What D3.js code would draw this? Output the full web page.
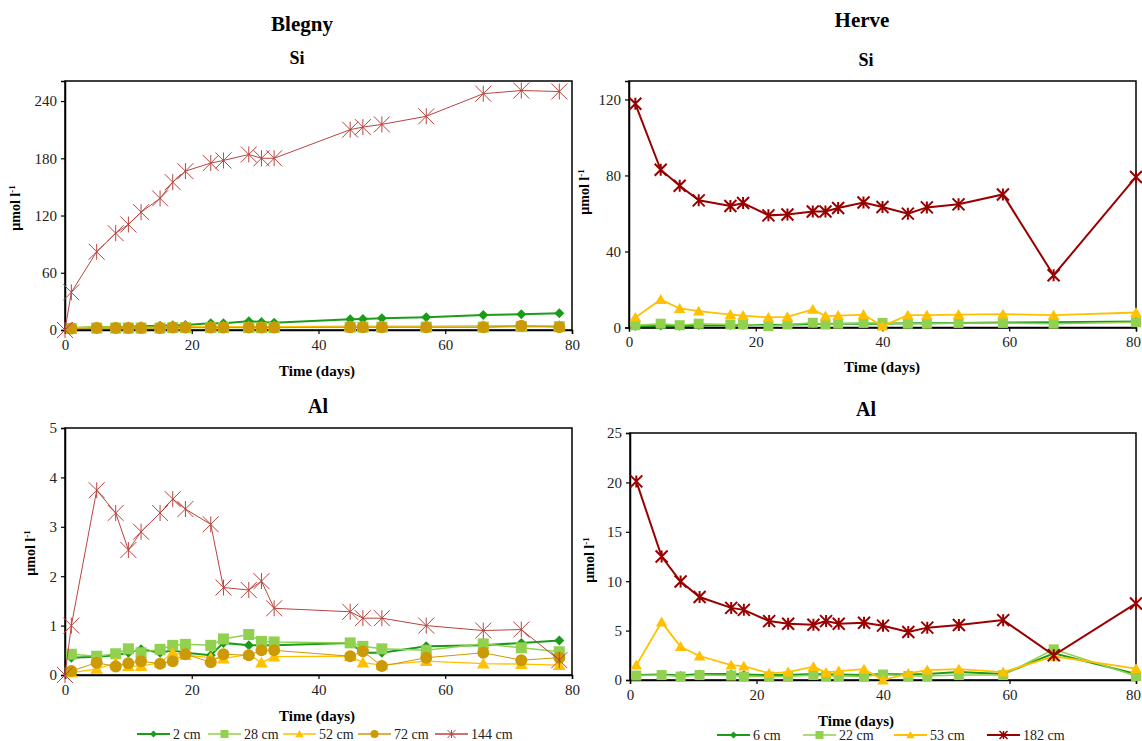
<!DOCTYPE html>
<html>
<head>
<meta charset="utf-8">
<script src="https://cdn.jsdelivr.net/npm/d3@7"></script>
<style>
  body { margin: 0; background: #fff; }
  svg { display: block; font-family: "Liberation Serif", "Times New Roman", serif; }
</style>
</head>
<body>
<svg width="1142" height="741"></svg>
<script>
// sampling days
const blegnyDays = [0, 1, 5, 8, 10, 12, 15, 17, 19, 23, 25, 29, 31, 33, 45, 47, 50, 57, 66, 72, 78];
const herveDays = [1, 5, 8, 11, 16, 18, 22, 25, 29, 31, 33, 37, 40, 44, 47, 52, 59, 67, 80];

// Blegny Si (null = no sample)
const blegnySi2   = [null, 2, 3, 3, 3.5, 4, 4.5, 5, 5.2, 7, 7, 9.1, 8.5, 7.7, 11.2, 11.5, 12.2, 13.3, 15.7, 16.5, 17.5];
const blegnySi28  = [null, 1.5, 2, 2, 2, 2, 2, 2.5, 2.5, 2.5, 2.5, 2.5, 2.5, 2.5, 3, 3, 3, 3, 3, 3.5, 3.5];
const blegnySi52  = [null, 2.5, 3, 3, 3, 3, 3, 3.5, 3.5, 3.5, 3.5, 3.5, 3.5, 3.5, 4, 4, 4, 4, 4.5, 4.5, 4.5];
const blegnySi72  = [null, 1.5, 2, 2, 2, 2, 2, 2.5, 2.5, 2.5, 2.5, 2.5, 2.5, 2.5, 3, 3, 3, 3, 3, 4.5, 3];
const blegnySi144 = [0, 39.5, 82, 101.5, 110.6, 123.5, 138, 155, 166.5, 175, 177.7, 184, 180, 180, 210, 212.7, 215.5, 224, 247.7, 251, 250];

// Blegny Al
const blegnyAl2   = [null, 0.35, 0.37, 0.4, 0.45, 0.52, 0.45, 0.5, 0.45, 0.4, 0.65, 0.6, 0.6, 0.6, 0.65, 0.45, 0.45, 0.58, 0.6, 0.65, 0.7];
const blegnyAl28  = [null, 0.42, 0.38, 0.43, 0.53, 0.45, 0.52, 0.6, 0.62, 0.6, 0.73, 0.82, 0.68, 0.67, 0.65, 0.58, 0.53, 0.5, 0.63, 0.55, 0.47];
const blegnyAl52  = [null, 0.05, 0.12, 0.25, 0.18, 0.18, 0.25, 0.45, 0.4, 0.35, 0.33, 0.42, 0.25, 0.37, 0.38, 0.25, 0.2, 0.28, 0.23, 0.22, 0.2];
const blegnyAl72  = [null, 0.08, 0.25, 0.17, 0.24, 0.28, 0.23, 0.28, 0.42, 0.26, 0.42, 0.4, 0.5, 0.5, 0.38, 0.48, 0.18, 0.35, 0.45, 0.3, 0.35];
const blegnyAl144 = [0, 1.0, 3.74, 3.28, 2.53, 2.9, 3.28, 3.56, 3.36, 3.05, 1.77, 1.72, 1.9, 1.35, 1.28, 1.15, 1.15, 1.0, 0.9, 0.92, 0.3];

// Herve Si
const herveSi6   = [0.5, 0.8, 0.7, 1.0, 1.0, 1.2, 1.3, 1.5, 1.8, 1.8, 2, 2, 2, 2.2, 2.2, 2.4, 2.6, 2.8, 3.2];
const herveSi22  = [1.2, 2, 1.2, 2, 1.6, 1.6, 0.7, 1.6, 2.5, 1.6, 2, 2.4, 2.4, 2, 2, 2.4, 2.4, 2, 2.8];
const herveSi53  = [5.3, 14.7, 10, 8.6, 6.8, 6.3, 5.3, 5.6, 9.5, 6, 6.3, 6.8, 0.7, 6.5, 6.5, 6.8, 7, 6.5, 7.9];
const herveSi182 = [117.7, 83, 74.6, 66.9, 63.9, 65.5, 59, 59.5, 61, 61, 62.9, 65.8, 63.4, 59.9, 63.2, 64.8, 70, 27.5, 79.2];

// Herve Al
const herveAl6   = [0.5, 0.55, 0.45, 0.6, 0.6, 0.55, 0.5, 0.5, 0.6, 0.55, 0.55, 0.5, 0.6, 0.55, 0.6, 0.8, 0.6, 2.7, 0.6];
const herveAl22  = [0.45, 0.5, 0.35, 0.5, 0.45, 0.35, 0.35, 0.35, 0.5, 0.4, 0.4, 0.35, 0.55, 0.4, 0.4, 0.5, 0.5, 3.1, 0.4];
const herveAl53  = [1.5, 5.86, 3.37, 2.43, 1.5, 1.4, 0.67, 0.8, 1.35, 0.75, 0.9, 1.1, 0, 0.67, 1.0, 1.1, 0.8, 2.4, 1.15];
const herveAl182 = [20.1, 12.5, 9.97, 8.4, 7.3, 7.1, 5.96, 5.7, 5.6, 5.96, 5.7, 5.8, 5.5, 4.85, 5.3, 5.56, 6.06, 2.5, 7.75];

const blegnyLabels = ["2 cm", "28 cm", "52 cm", "72 cm", "144 cm"];
const herveLabels = ["6 cm", "22 cm", "53 cm", "182 cm"];

const siTicksBlegny = [0, 60, 120, 180, 240];
const siTicksHerve = [0, 40, 80, 120];
const alTicksBlegny = [0, 1, 2, 3, 4, 5];
const alTicksHerve = [0, 5, 10, 15, 20, 25];
const dayTicks = [0, 20, 40, 60, 80];

const svg = d3.select("svg");

// marker painters
const markers = {
  diamond: (g, r) => g.append("path").attr("d", `M0,${-r}L${r},0L0,${r}L${-r},0Z`),
  square: (g, r) => g.append("rect").attr("x", -r).attr("y", -r).attr("width", 2 * r).attr("height", 2 * r),
  triangle: (g, r) => g.append("path").attr("d", `M0,${-r}L${r * 1.05},${r * 0.8}L${-r * 1.05},${r * 0.8}Z`),
  circle: (g, r) => g.append("circle").attr("r", r),
  star: (g, r) => g.append("path").attr("d", `M${-r},${-r}L${r},${r}M${-r},${r}L${r},${-r}M0,${-r}L0,${r}`).attr("fill", "none")
};

const blegnyStyle = [
  { color: "#1a9c1a", width: 2, marker: "diamond", r: 5, sw: 0 },
  { color: "#92d050", width: 1.5, marker: "square", r: 5.5, sw: 0 },
  { color: "#ffc000", width: 1.3, marker: "triangle", r: 6, sw: 0 },
  { color: "#cc9a06", width: 1, marker: "circle", r: 6, sw: 0 },
  { color: "#b8443f", width: 1, marker: "star", r: 8, sw: 1 }
];
const herveStyle = [
  { color: "#1a9c1a", width: 2, marker: "diamond", r: 4.5, sw: 0 },
  { color: "#92d050", width: 1.5, marker: "square", r: 5, sw: 0 },
  { color: "#ffc000", width: 1.8, marker: "triangle", r: 5.5, sw: 0 },
  { color: "#990000", width: 2, marker: "star", r: 6, sw: 2 }
];

function drawMarker(g, st, r) {
  const m = markers[st.marker](g, r);
  if (st.sw > 0) m.attr("stroke", st.color).attr("stroke-width", st.sw).attr("fill", "none");
  else m.attr("fill", st.color);
}

function panel(cfg) {
  const x = d3.scaleLinear().domain([0, 80]).range([cfg.left, cfg.right]);
  const y = d3.scaleLinear().domain([0, cfg.ymax]).range([cfg.bottom, cfg.top]);
  const g = svg.append("g");

  g.append("rect")
    .attr("x", cfg.left).attr("y", cfg.top)
    .attr("width", cfg.right - cfg.left).attr("height", cfg.bottom - cfg.top)
    .attr("fill", "none").attr("stroke", "#000").attr("stroke-width", 1.5);

  const ax = g.append("g").attr("transform", `translate(0,${cfg.bottom})`)
    .call(d3.axisBottom(x).tickValues(dayTicks).tickFormat(d3.format("d")).tickSize(4).tickPadding(5));
  const ay = g.append("g").attr("transform", `translate(${cfg.left},0)`)
    .call(d3.axisLeft(y).tickValues(cfg.ticks).tickFormat(d3.format("d")).tickSize(4).tickPadding(4));
  [ax, ay].forEach(a => {
    a.attr("font-family", null).attr("font-size", null);
    a.select(".domain").attr("stroke", "#000").attr("stroke-width", 1.5);
    a.selectAll(".tick line").attr("stroke", "#000").attr("stroke-width", 1.2);
    a.selectAll(".tick text").attr("font-size", 15).attr("fill", "#222");
  });
  // keep the last day label inside the window on the right-hand panels
  if (cfg.right > 1100) ax.selectAll(".tick text").filter(d => d === 80).attr("dx", -3);

  const line = d3.line()
    .x(d => x(d.t)).y(d => y(d.v));

  cfg.series.forEach((vals, i) => {
    const st = cfg.styles[i];
    const pts = cfg.days.map((t, j) => ({ t, v: vals[j] })).filter(d => d.v !== null);
    g.append("path")
      .attr("d", line(pts))
      .attr("fill", "none").attr("stroke", st.color).attr("stroke-width", st.width);
    pts.forEach(d => {
      const mg = g.append("g").attr("transform", `translate(${x(d.t)},${y(d.v)})`);
      drawMarker(mg, st, st.r);
    });
  });

  g.append("text").attr("x", cfg.titleX).attr("y", cfg.titleY)
    .attr("text-anchor", "middle").attr("font-weight", "bold").attr("font-size", cfg.titleSize)
    .text(cfg.title);

  g.append("text").attr("x", cfg.xtX).attr("y", cfg.xtY)
    .attr("text-anchor", "middle").attr("font-weight", "bold").attr("font-size", 15)
    .text("Time (days)");

  const yt = g.append("text")
    .attr("transform", `translate(${cfg.ytX},${cfg.ytY}) rotate(-90)`)
    .attr("text-anchor", "middle").attr("font-weight", "bold").attr("font-size", 14);
  yt.append("tspan").text("µmol l");
  yt.append("tspan").attr("dy", -5).attr("font-size", 9).text("-1");
}

panel({
  left: 65, right: 572, top: 81, bottom: 330, ymax: 261, ticks: siTicksBlegny,
  days: blegnyDays, series: [blegnySi2, blegnySi28, blegnySi52, blegnySi72, blegnySi144], styles: blegnyStyle,
  title: "Si", titleX: 297, titleY: 64, titleSize: 18,
  xtX: 317, xtY: 376, ytX: 20, ytY: 208
});
panel({
  left: 629, right: 1136, top: 81, bottom: 327.5, ymax: 129.7, ticks: siTicksHerve,
  days: herveDays, series: [herveSi6, herveSi22, herveSi53, herveSi182], styles: herveStyle,
  title: "Si", titleX: 866, titleY: 66, titleSize: 18,
  xtX: 882, xtY: 372, ytX: 589, ytY: 192
});
panel({
  left: 65, right: 572, top: 428, bottom: 675, ymax: 5, ticks: alTicksBlegny,
  days: blegnyDays, series: [blegnyAl2, blegnyAl28, blegnyAl52, blegnyAl72, blegnyAl144], styles: blegnyStyle,
  title: "Al", titleX: 318, titleY: 413, titleSize: 20,
  xtX: 317, xtY: 721, ytX: 35, ytY: 553
});
panel({
  left: 630, right: 1136, top: 433, bottom: 680, ymax: 25, ticks: alTicksHerve,
  days: herveDays, series: [herveAl6, herveAl22, herveAl53, herveAl182], styles: herveStyle,
  title: "Al", titleX: 866, titleY: 416, titleSize: 20,
  xtX: 856, xtY: 726, ytX: 594, ytY: 560
});

svg.append("text").attr("x", 302).attr("y", 31).attr("text-anchor", "middle")
  .attr("font-weight", "bold").attr("font-size", 21).text("Blegny");
svg.append("text").attr("x", 862).attr("y", 27).attr("text-anchor", "middle")
  .attr("font-weight", "bold").attr("font-size", 21).text("Herve");

// legends
function legend(labels, styles, starts, y) {
  labels.forEach((lab, i) => {
    const st = styles[i];
    const x0 = starts[i];
    const g = svg.append("g");
    g.append("line").attr("x1", x0).attr("x2", x0 + 33).attr("y1", y).attr("y2", y)
      .attr("stroke", st.color).attr("stroke-width", Math.max(st.width, 1.5));
    const mg = g.append("g").attr("transform", `translate(${x0 + 16.5},${y})`);
    drawMarker(mg, { ...st, sw: st.sw ? Math.min(st.sw, 1.5) : 0 }, st.marker === "diamond" ? 3.5 : 4);
    g.append("text").attr("x", x0 + 36).attr("y", y + 4.5).attr("font-size", 14).attr("fill", "#222").text(lab);
  });
}
legend(blegnyLabels, blegnyStyle, [137, 208, 283, 358, 435], 734);
legend(herveLabels, herveStyle, [717, 803, 894, 987], 735);
</script>
</body>
</html>
